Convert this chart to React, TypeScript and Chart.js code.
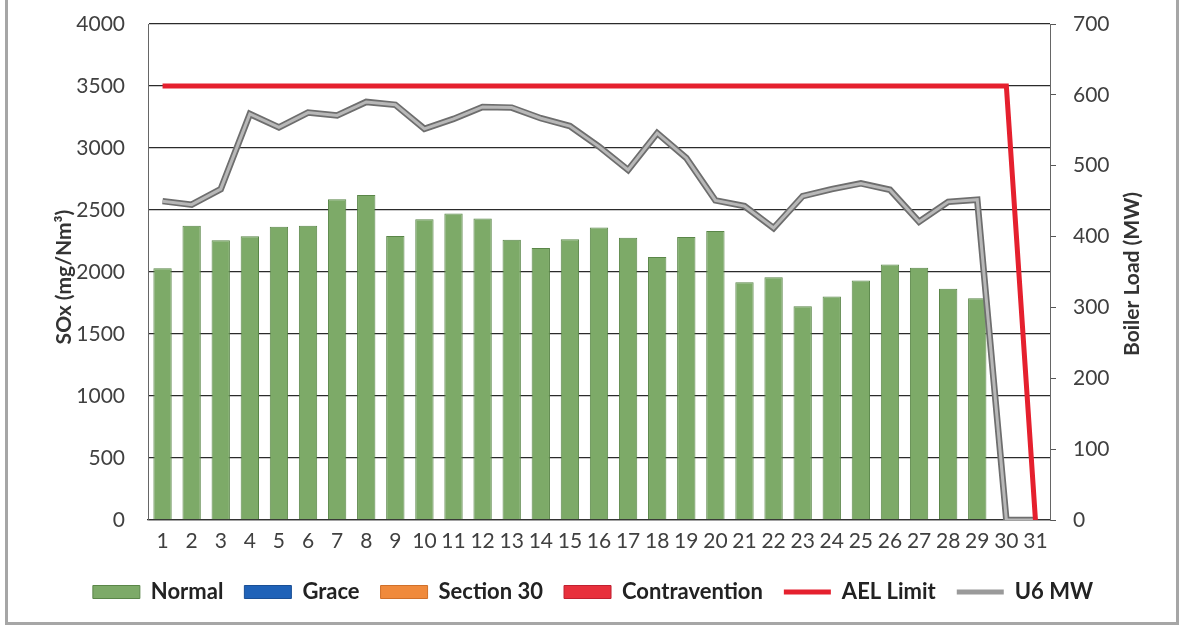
import React, { useEffect, useRef } from 'react';
import { Chart, registerables } from 'chart.js';

Chart.register(...registerables);

const days = ['1','2','3','4','5','6','7','8','9','10','11','12','13','14','15','16','17','18','19','20','21','22','23','24','25','26','27','28','29','30','31'];
const normal: (number | null)[] = [2031, 2372, 2256, 2288, 2364, 2372, 2586, 2621, 2291, 2426, 2472, 2432, 2261, 2193, 2264, 2358, 2277, 2120, 2282, 2331, 1917, 1958, 1723, 1803, 1931, 2061, 2034, 1864, 1788, null, null];
const grace: (number | null)[] = [];
const section30: (number | null)[] = [];
const contravention: (number | null)[] = [];
const aelLimit: number[] = [3500, 3500, 3500, 3500, 3500, 3500, 3500, 3500, 3500, 3500, 3500, 3500, 3500, 3500, 3500, 3500, 3500, 3500, 3500, 3500, 3500, 3500, 3500, 3500, 3500, 3500, 3500, 3500, 3500, 3500, 0];
const u6MW: number[] = [450, 445, 467, 573, 554, 575, 571, 590, 586, 552, 566, 583, 582, 567, 556, 527, 494, 546, 511, 451, 443, 412, 457, 467, 475, 466, 421, 449, 452, 0, 0];
const leftTicks = { min: 0, max: 4000, step: 500 };
const rightTicks = { min: 0, max: 700, step: 100 };

const FONT = 'Lato';
const tickFont = { family: FONT, size: 21 };
const boldFont = { family: FONT, size: 22, weight: 'bold' as const };
const plain = (v: any) => String(v);

const titlesPlugin = {
  id: 'axisTitles',
  afterDraw(chart: any) {
    const ctx = chart.ctx;
    const draw = (text: string, x: number, y: number) => {
      ctx.save();
      ctx.fillStyle = '#333333';
      ctx.font = `bold 21px ${FONT}`;
      ctx.textAlign = 'center';
      ctx.textBaseline = 'middle';
      ctx.translate(x, y);
      ctx.rotate(-Math.PI / 2);
      ctx.fillText(text, 0, 0);
      ctx.restore();
    };
    draw('SOx (mg/Nm³)', 64, 277);
    draw('Boiler Load (MW)', 1132, 274);
  },
};

export default function App() {
  const ref = useRef<HTMLCanvasElement | null>(null);

  useEffect(() => {
    if (!ref.current) return;
    const barBase = { type: 'bar' as const, grouped: false, barPercentage: 0.63, categoryPercentage: 1, borderWidth: 1, yAxisID: 'y', order: 10 };
    const chart = new Chart(ref.current, {
      type: 'bar',
      data: {
        labels: days,
        datasets: [
          { ...barBase, label: 'Normal', data: normal, backgroundColor: '#7daa68', borderColor: '#5a8648' },
          { ...barBase, label: 'Grace', data: grace, backgroundColor: '#1f62b8', borderColor: '#1a4f95' },
          { ...barBase, label: 'Section 30', data: section30, backgroundColor: '#f08a3c', borderColor: '#d0702a' },
          { ...barBase, label: 'Contravention', data: contravention, backgroundColor: '#e8303c', borderColor: '#c02030' },
          { type: 'line', label: 'AEL Limit', data: aelLimit, borderColor: '#e5202e', backgroundColor: '#e5202e', borderWidth: 5, pointRadius: 0, tension: 0, yAxisID: 'y', order: 1 },
          { type: 'line', label: 'U6 MW', data: u6MW, borderColor: '#b8b8b8', backgroundColor: '#b8b8b8', borderWidth: 3, pointRadius: 0, tension: 0, yAxisID: 'y1', order: 2 },
          { type: 'line', label: 'U6 MW outline', data: u6MW, borderColor: '#6e6e6e', backgroundColor: '#6e6e6e', borderWidth: 6.5, pointRadius: 0, tension: 0, yAxisID: 'y1', order: 3 },
        ] as any,
      },
      options: {
        animation: false,
        responsive: false,
        maintainAspectRatio: false,
        events: [],
        layout: { padding: { top: 24, left: 0, right: 0, bottom: 14 } },
        scales: {
          x: {
            offset: true,
            grid: { display: false, drawTicks: false },
            border: { display: true, color: '#333333', width: 1.3 },
            ticks: { padding: 9, font: tickFont, color: '#404040', autoSkip: false, maxRotation: 0 },
            afterFit: (s: any) => { s.height = 40; },
          },
          y: {
            position: 'left',
            min: leftTicks.min,
            max: leftTicks.max,
            ticks: { stepSize: leftTicks.step, padding: 23, font: tickFont, color: '#404040', callback: plain },
            grid: { color: '#2b2b2b', lineWidth: 1.3, drawTicks: false },
            border: { display: true, color: '#666666', width: 1 },
            afterFit: (s: any) => { s.width = 148; s.paddingTop = 0; s.paddingBottom = 0; },
          },
          y1: {
            position: 'right',
            min: rightTicks.min,
            max: rightTicks.max,
            ticks: { stepSize: rightTicks.step, padding: 17, font: tickFont, color: '#404040', callback: plain },
            grid: { drawOnChartArea: false, drawTicks: true, tickLength: 6, color: '#555555' },
            border: { display: true, color: '#666666', width: 1 },
            afterFit: (s: any) => { s.width = 136; s.paddingTop = 0; s.paddingBottom = 0; },
          },
        } as any,
        plugins: {
          tooltip: { enabled: false },
          legend: {
            position: 'bottom',
            labels: {
              font: boldFont,
              color: '#222222',
              usePointStyle: true,
              pointStyleWidth: 47,
              boxHeight: 13,
              padding: 21,
              generateLabels: (c: any) => {
                const items = (Chart.defaults.plugins.legend.labels as any).generateLabels(c);
                return items
                  .filter((i: any) => i.datasetIndex !== 6)
                  .map((i: any) => {
                    const ds: any = c.data.datasets[i.datasetIndex];
                    if (ds.type === 'line') {
                      i.pointStyle = 'line';
                      i.strokeStyle = i.datasetIndex === 5 ? '#9a9a9a' : ds.borderColor;
                      i.lineWidth = 5;
                    } else {
                      i.pointStyle = 'rect';
                      i.fillStyle = ds.backgroundColor;
                      i.strokeStyle = ds.borderColor;
                      i.lineWidth = 1;
                    }
                    return i;
                  })
                  .sort((a: any, b: any) => a.datasetIndex - b.datasetIndex);
              },
            },
          },
        } as any,
      },
      plugins: [titlesPlugin],
    });
    return () => chart.destroy();
  }, []);

  return (
    <div style={{ position: 'absolute', left: 0, top: 0, width: 1186, height: 627, background: '#ffffff', overflow: 'hidden' }}>
      <canvas ref={ref} width={1186} height={627} style={{ position: 'absolute', left: 0, top: 0, width: 1186, height: 627 }} />
      <div style={{ position: 'absolute', left: 5, top: -10, width: 1174, height: 635, boxSizing: 'border-box', borderLeft: '3px solid #a6a6a6', borderRight: '3px solid #a6a6a6', borderBottom: '3px solid #a6a6a6', pointerEvents: 'none' }} />
    </div>
  );
}
